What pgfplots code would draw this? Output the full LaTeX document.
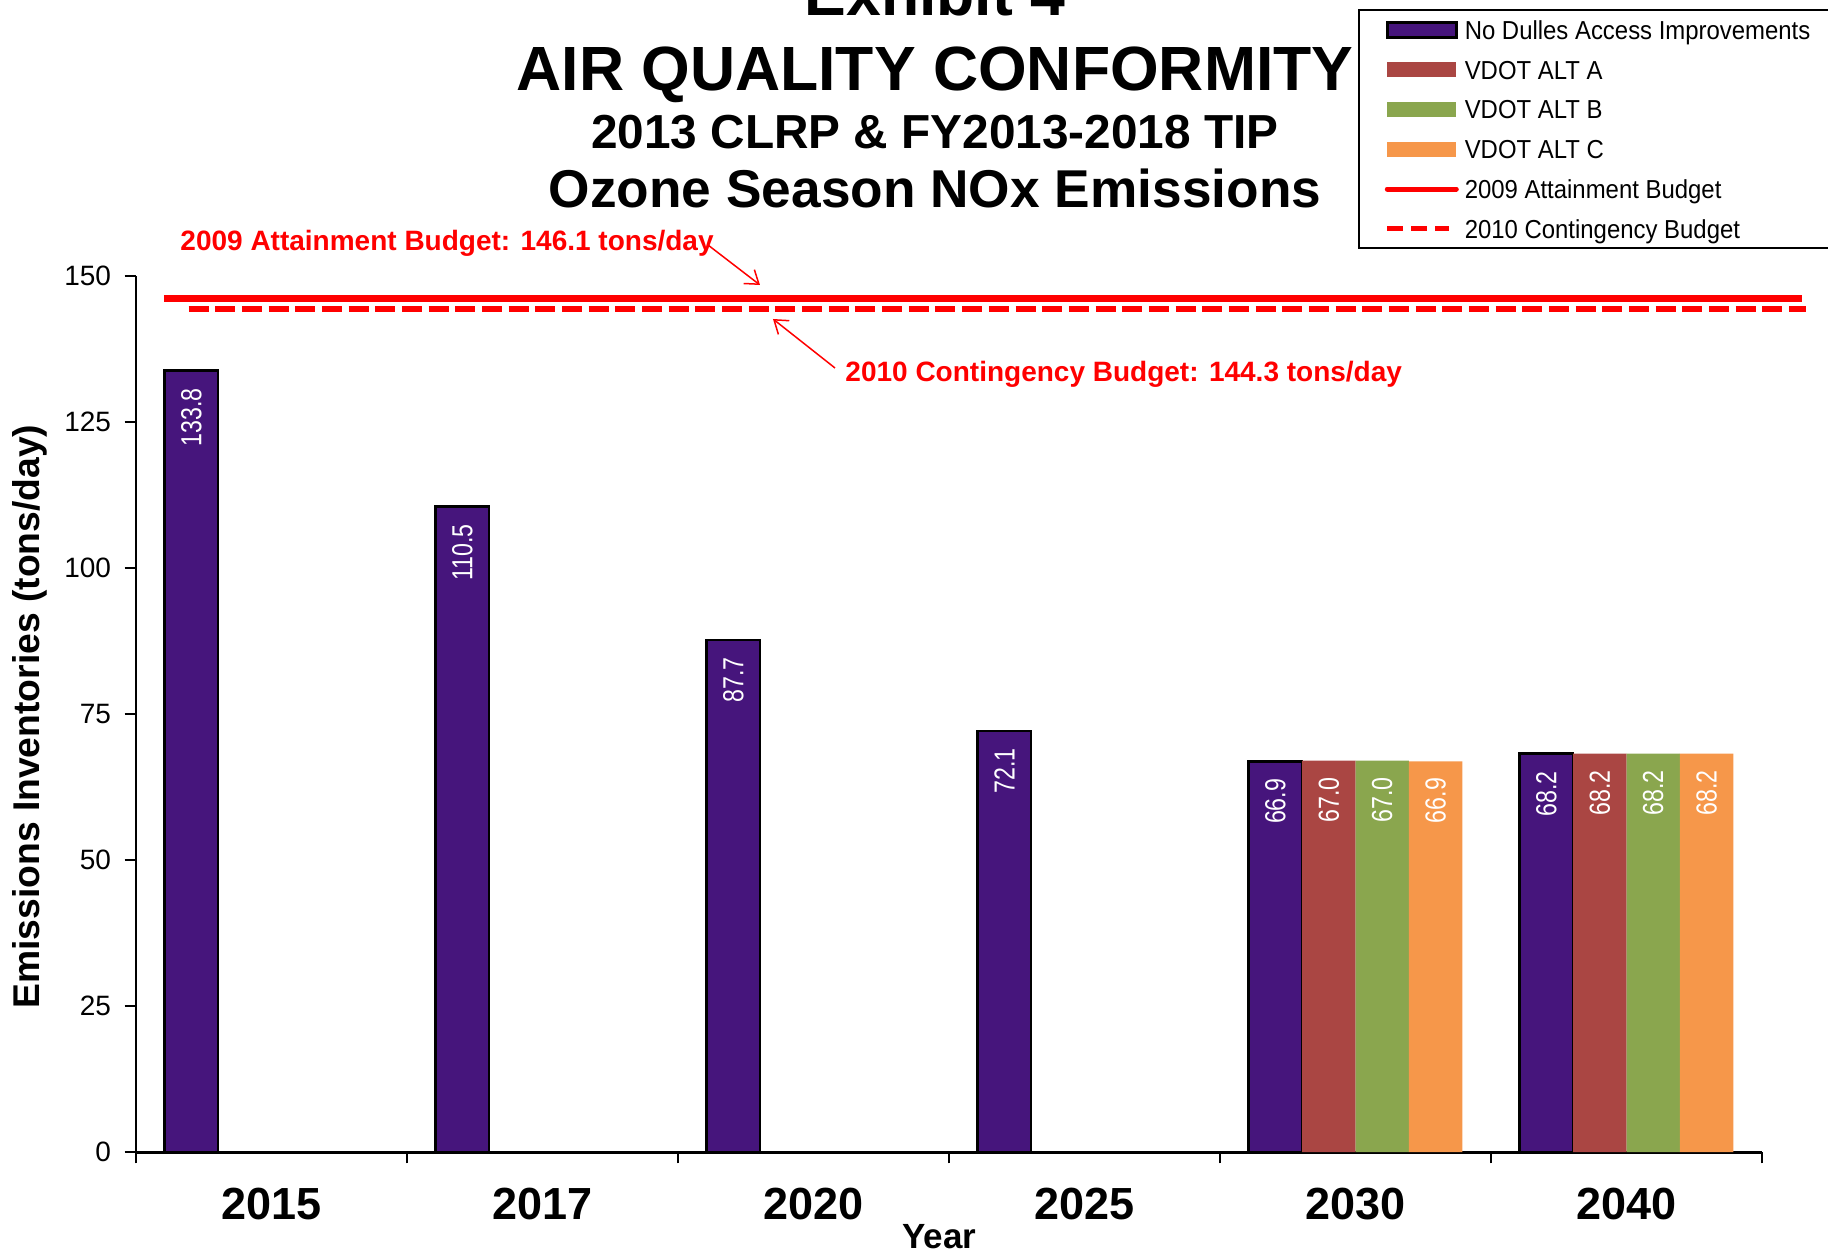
\documentclass[border=0pt]{standalone}
\usepackage{pgfplots}
\pgfplotsset{compat=1.18}
\usetikzlibrary{arrows.meta}
\usepackage{fontspec}
\setmainfont{Liberation Sans}
\newfontfamily\labfont{Liberation Sans}[FakeStretch=0.8]
\newfontfamily\legfont{Liberation Sans}[FakeStretch=0.92]
\definecolor{purplebar}{HTML}{46157C}
\definecolor{altA}{HTML}{AA4643}
\definecolor{altB}{HTML}{8AA64E}
\definecolor{altC}{HTML}{F6974A}
\definecolor{budred}{HTML}{FF0000}

\pgfplotstableread{
x y
-0.2955 133.8
0.7045 110.5
1.7045 87.7
2.7045 72.1
3.7045 66.9
4.7045 68.2
}\nodulles
\pgfplotstableread{
x y
3.9015 67.0
4.9015 68.2
}\alta
\pgfplotstableread{
x y
4.0985 67.0
5.0985 68.2
}\altb
\pgfplotstableread{
x y
4.2955 66.9
5.2955 68.2
}\altc

\begin{document}
\begin{tikzpicture}
\path[use as bounding box] (0,0) rectangle (731.2pt,-502.8pt);
\begin{axis}[
  at={(54.4pt,-460.8pt)}, anchor=south west,
  scale only axis, width=650.4pt, height=350.4pt,
  xmin=-0.5, xmax=5.5, ymin=0, ymax=150,
  clip=false,
  axis lines*=left,
  axis line style={-, black},
  x axis line style={line width=1.2pt},
  y axis line style={line width=0.9pt},
  xtick={-0.5,0.5,1.5,2.5,3.5,4.5,5.5},
  x tick label as interval,
  xticklabels={2015,2017,2020,2025,2030,2040},
  ytick={0,25,50,75,100,125,150},
  tick align=outside,
  major tick length=4.5pt,
  tick style={black, line width=0.8pt},
  /pgf/number format/assume math mode=true,
  xticklabel style={font=\bfseries\fontsize{18}{21}\selectfont, anchor=north, inner sep=0pt, yshift=-9.7pt},
  yticklabel style={font=\fontsize{11.2}{13}\selectfont, anchor=east, inner sep=0pt, xshift=-5.3pt},
  xlabel={Year},
  xlabel style={font=\bfseries\fontsize{14}{16}\selectfont, at={([yshift=-38.4pt]axis description cs:0.494,0)}, anchor=base, inner sep=0pt},
  ylabel={Emissions Inventories (tons/day)},
  ylabel style={font=\bfseries\fontsize{14.9}{17}\selectfont, at={([xshift=-38.4pt]axis description cs:0,0.497)}, anchor=base, rotate=0, inner sep=0pt},
  legend style={at={(rel axis cs:0.7680,1.2950)}, anchor=north west, draw=none, fill=none,
    inner sep=0pt, outer sep=0pt, row sep=5.95pt, column sep=2.4pt,
    nodes={inner sep=0pt, text height=8.7pt, text depth=1.25pt},
    font=\legfont\fontsize{10.4}{12}\selectfont},
  legend cell align=left,
  nodes near coords={\pgfmathprintnumber[fixed,fixed zerofill,precision=1]{\pgfplotspointmeta}},
  every node near coord/.append style={rotate=90, anchor=east, inner sep=0pt, inner xsep=6.5pt,
    font=\labfont\fontsize{11.6}{13}\selectfont, text=white},
]
\addplot[ybar, bar width=0.197, bar shift=0pt, fill=purplebar, draw=black, line width=1pt,
  legend image code/.code={\draw[fill=purplebar, draw=black, line width=1pt] (0pt,-3pt) rectangle (27.6pt,3pt);}]
  table[x=x, y=y] {\nodulles};
\addlegendentry{No Dulles Access Improvements}
\addplot[ybar, bar width=0.197, bar shift=0pt, fill=altA, draw=none,
  legend image code/.code={\fill[altA] (0pt,-3pt) rectangle (27.6pt,3pt);}]
  table[x=x, y=y] {\alta};
\addlegendentry{VDOT ALT A}
\addplot[ybar, bar width=0.197, bar shift=0pt, fill=altB, draw=none,
  legend image code/.code={\fill[altB] (0pt,-3pt) rectangle (27.6pt,3pt);}]
  table[x=x, y=y] {\altb};
\addlegendentry{VDOT ALT B}
\addplot[ybar, bar width=0.197, bar shift=0pt, fill=altC, draw=none,
  legend image code/.code={\fill[altC] (0pt,-3pt) rectangle (27.6pt,3pt);}]
  table[x=x, y=y] {\altc};
\addlegendentry{VDOT ALT C}
\addplot[budred, line width=2.8pt, nodes near coords={}, no marks,
  legend image code/.code={\draw[budred, line width=2pt, line cap=round] (0pt,0pt) -- (27.6pt,0pt);}]
  coordinates {(-0.397,146.1) (5.646,146.1)};
\addlegendentry{2009 Attainment Budget}
\addplot[budred, line width=2.4pt, dash pattern=on 8pt off 2.67pt, nodes near coords={}, no marks,
  legend image code/.code={\draw[budred, line width=2pt, dash pattern=on 6.4pt off 3.2pt] (0pt,0pt) -- (24.8pt,0pt);}]
  coordinates {(-0.306,144.3) (5.664,144.3)};
\addlegendentry{2010 Contingency Budget}
\end{axis}
\begin{scope}[x=0.4pt, y=-0.4pt]
  \draw[line width=0.5pt] (1359,10) rectangle (1845,248);
  \node[font=\bfseries\fontsize{25}{30}\selectfont, anchor=base, inner sep=0pt] at (935,16) {Exhibit 4};
  \node[font=\bfseries\fontsize{25}{30}\selectfont, anchor=base, inner sep=0pt] at (935,91) {AIR QUALITY CONFORMITY};
  \node[font=\bfseries\fontsize{19.1}{23}\selectfont, anchor=base, inner sep=0pt] at (935,149) {2013 CLRP \& FY2013-2018 TIP};
  \node[font=\bfseries\fontsize{21.3}{25}\selectfont, anchor=base, inner sep=0pt] at (935,207.5) {Ozone Season NOx Emissions};
  \node[font=\bfseries\fontsize{11.2}{13}\selectfont, text=budred, anchor=base west, inner sep=0pt] at (180,251) {2009 Attainment Budget: 146.1 tons/day};
  \draw[budred, line width=0.6pt, -{Straight Barb[length=5pt,width=7pt]}] (708,245) -- (760,285);
  \node[font=\bfseries\fontsize{11.2}{13}\selectfont, text=budred, anchor=base west, inner sep=0pt] at (845,382) {2010 Contingency Budget: 144.3 tons/day};
  \draw[budred, line width=0.6pt, -{Straight Barb[length=5pt,width=7pt]}] (835,368) -- (773,319);
\end{scope}
\end{tikzpicture}
\end{document}
